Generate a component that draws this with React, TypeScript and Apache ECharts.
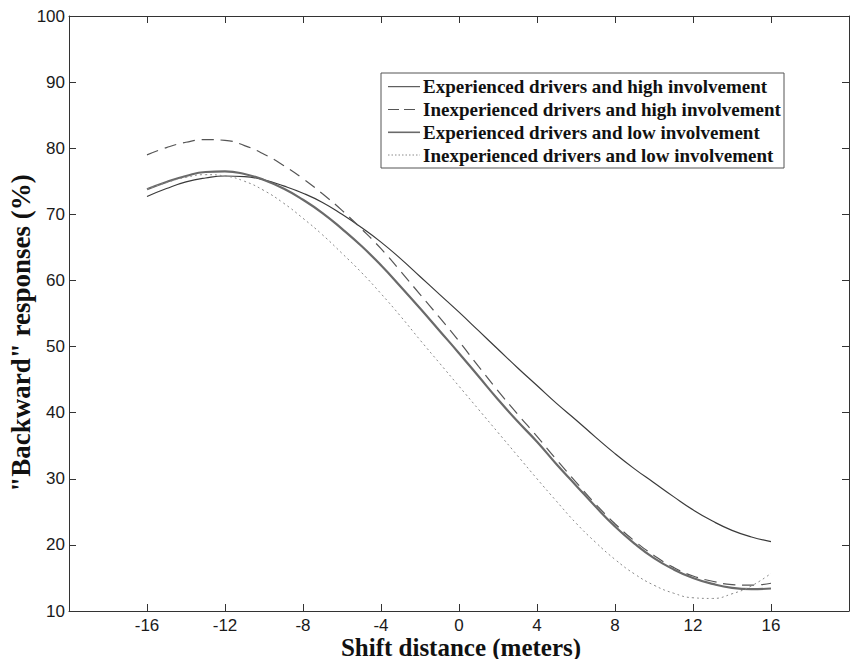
import React, { useEffect, useRef } from "react";
import * as echarts from "echarts";

const xValues = [-16, -15, -14, -13, -12, -11, -10, -9, -8, -7, -6, -5, -4, -3, -2, -1, 0, 1, 2, 3, 4, 5, 6, 7, 8, 9, 10, 11, 12, 13, 14, 15, 16];
const expHigh = [72.7, 73.9, 74.9, 75.5, 75.8, 75.7, 75.2, 74.3, 73.2, 71.8, 70.0, 68.0, 65.8, 63.3, 60.6, 57.9, 55.2, 52.4, 49.6, 46.8, 44.1, 41.4, 38.9, 36.3, 33.8, 31.5, 29.4, 27.3, 25.3, 23.6, 22.2, 21.2, 20.5];
const inexpHigh = [79.0, 80.1, 80.9, 81.3, 81.2, 80.4, 79.1, 77.4, 75.4, 73.1, 70.6, 67.8, 64.8, 61.4, 57.9, 54.4, 50.8, 47.0, 43.3, 39.8, 36.4, 32.9, 29.5, 26.2, 23.2, 20.6, 18.4, 16.6, 15.3, 14.5, 14.0, 13.9, 14.2];
const expLow = [73.8, 74.9, 75.8, 76.4, 76.5, 76.1, 75.2, 73.9, 72.2, 70.2, 67.8, 65.2, 62.3, 59.1, 55.8, 52.4, 49.0, 45.5, 42.0, 38.7, 35.6, 32.2, 29.0, 25.8, 22.8, 20.2, 18.0, 16.3, 15.0, 14.1, 13.5, 13.3, 13.4];
const inexpLow = [73.8, 74.8, 75.6, 76.0, 75.8, 75.0, 73.6, 71.7, 69.4, 66.9, 64.1, 61.2, 58.0, 54.6, 51.0, 47.5, 44.0, 40.5, 37.0, 33.5, 30.0, 26.6, 23.3, 20.4, 17.8, 15.6, 13.9, 12.7, 12.0, 11.9, 12.6, 13.8, 15.7];

const seriesNames = [
  "Experienced drivers and high involvement",
  "Inexperienced drivers and high involvement",
  "Experienced drivers and low involvement",
  "Inexperienced drivers and low involvement",
];
const xTitle = "Shift distance (meters)";
const yTitle = "\"Backward\" responses (%)";

const seriesStyles = [
  { color: "#3a3a3a", width: 1.2, type: "solid" as any },
  { color: "#555555", width: 1.2, type: [12, 7] as any },
  { color: "#6a6a6a", width: 2.2, type: "solid" as any },
  { color: "#8a8a8a", width: 1, type: [2, 3] as any },
];

const pairs = (ys: number[]) => xValues.map((x, i) => [x, ys[i]]);

export default function App() {
  const ref = useRef<HTMLDivElement>(null);
  useEffect(() => {
    if (!ref.current) return;
    const chart = echarts.init(ref.current, undefined, { renderer: "svg" });
    const axisLine = { show: true, onZero: false, lineStyle: { color: "#333", width: 1 } };
    const axisTick = { show: true, inside: true, length: 7, lineStyle: { color: "#333", width: 1 } };
    const labelStyle = { color: "#1a1a1a", fontSize: 17, fontFamily: "Liberation Sans, Arial, sans-serif" };
    const allData = [expHigh, inexpHigh, expLow, inexpLow];

    const legendX = 381;
    const legendY = 73;
    const legendW = 403;
    const legendH = 95;
    const rowY = [86.7, 109.5, 132.3, 155];
    const legendGraphics: any[] = [
      {
        type: "rect",
        shape: { x: legendX, y: legendY, width: legendW, height: legendH },
        style: { fill: "#ffffff", stroke: "#555", lineWidth: 1 },
        z: 10,
      },
    ];
    seriesNames.forEach((name, i) => {
      const st = seriesStyles[i];
      legendGraphics.push({
        type: "line",
        shape: { x1: 388, y1: rowY[i], x2: 420, y2: rowY[i] },
        style: {
          stroke: st.color,
          lineWidth: i === 2 ? 1.6 : 1,
          lineDash: Array.isArray(st.type) ? (i === 1 ? [11, 5] : [1.5, 2]) : null,
        },
        z: 11,
      });
      legendGraphics.push({
        type: "text",
        x: 423,
        y: rowY[i],
        style: {
          text: name,
          font: "bold 19px 'Liberation Serif', 'Times New Roman', serif",
          fill: "#111",
          textAlign: "left",
          textVerticalAlign: "middle",
        },
        z: 11,
      });
    });

    chart.setOption({
      animation: false,
      backgroundColor: "#ffffff",
      grid: { left: 69, top: 16, width: 788, height: 595, containLabel: false },
      xAxis: [
        {
          type: "value",
          min: -20,
          max: 20,
          interval: 4,
          position: "bottom",
          axisLine,
          axisTick,
          splitLine: { show: false },
          axisLabel: {
            ...labelStyle,
            margin: 6,
            formatter: (v: number) => (v === -20 || v === 20 ? "" : String(v)),
          },
        },
        {
          type: "value",
          min: -20,
          max: 20,
          interval: 4,
          position: "top",
          axisLine,
          axisTick,
          splitLine: { show: false },
          axisLabel: { show: false },
        },
      ],
      yAxis: [
        {
          type: "value",
          min: 10,
          max: 100,
          interval: 10,
          position: "left",
          axisLine,
          axisTick,
          splitLine: { show: false },
          axisLabel: { ...labelStyle, margin: 4 },
        },
        {
          type: "value",
          min: 10,
          max: 100,
          interval: 10,
          position: "right",
          axisLine,
          axisTick,
          splitLine: { show: false },
          axisLabel: { show: false },
        },
      ],
      graphic: [
        {
          type: "text",
          x: 461,
          y: 647,
          style: {
            text: xTitle,
            font: "bold 25px 'Liberation Serif', 'Times New Roman', serif",
            fill: "#111",
            textAlign: "center",
            textVerticalAlign: "middle",
          },
        },
        {
          type: "text",
          x: 21,
          y: 333,
          rotation: Math.PI / 2,
          style: {
            text: yTitle,
            font: "bold 27px 'Liberation Serif', 'Times New Roman', serif",
            fill: "#111",
            textAlign: "center",
            textVerticalAlign: "middle",
          },
        },
        ...legendGraphics,
      ],
      series: seriesNames.map((name, i) => ({
        name,
        type: "line",
        data: pairs(allData[i]),
        smooth: true,
        symbol: "none",
        showSymbol: false,
        lineStyle: { color: seriesStyles[i].color, width: seriesStyles[i].width, type: seriesStyles[i].type },
        itemStyle: { color: seriesStyles[i].color },
        xAxisIndex: 0,
        yAxisIndex: 0,
      })),
    });
    return () => chart.dispose();
  }, []);
  return (
    <div
      ref={ref}
      style={{ position: "absolute", left: 0, top: 0, width: 852, height: 659, background: "#fff" }}
    />
  );
}
